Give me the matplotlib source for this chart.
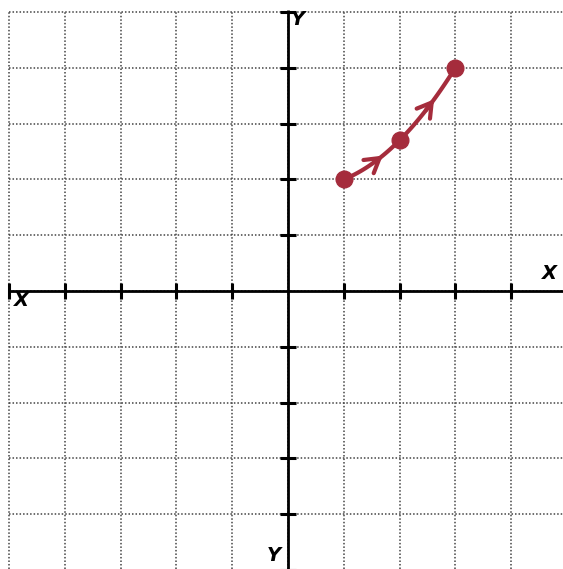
import numpy as np
import matplotlib.pyplot as plt

# path points plotted in the first quadrant
px = [1, 2, 3]
py = [2, 2.7, 4]
# x positions of the direction chevrons along the path
arrow_x = [1.7, 2.62]
grid_ticks = list(range(-5, 6))

red = '#a52c3c'

fig = plt.figure(figsize=(5.63, 5.69), dpi=100)
ax = fig.add_axes([0, 0, 1, 1])
x_lo, x_hi = -5.16, 4.93
y_lo, y_hi = -4.98, 5.215
ax.set_xlim(x_lo, x_hi)
ax.set_ylim(y_lo, y_hi)

# dotted square grid, starting at the outermost top/left lines
dots = dict(color='#444444', lw=1.1, ls=(0, (1, 1.3)), zorder=1)
ax.vlines(grid_ticks, y_lo, 5, **dots)
ax.hlines(grid_ticks, -5, x_hi, **dots)

# axes through the origin
ax.hlines(0, -5, x_hi, color='black', lw=2.0, zorder=2)
ax.vlines(0, y_lo, 5.04, color='black', lw=2.0, zorder=2)
tick_x = [t for t in grid_ticks if t != 0]
ax.plot(tick_x, [0] * len(tick_x), ls='none', marker='|', ms=12, mew=2.2, color='black', zorder=3)
ax.plot([0] * len(tick_x), tick_x, ls='none', marker='_', ms=12, mew=2.2, color='black', zorder=3)

for s in ax.spines.values():
    s.set_visible(False)
ax.set_xticks([])
ax.set_yticks([])

lbl = dict(fontsize=14, fontweight='bold', fontstyle='italic', ha='center', va='center', zorder=4)
ax.text(0.17, 4.86, 'Y', **lbl)
ax.text(4.68, 0.32, 'X', **lbl)
ax.text(-4.77, -0.17, 'X', **lbl)
ax.text(-0.25, -4.73, 'Y', **lbl)

# smooth curve through the three points
coef = np.polyfit(px, py, 2)
xs = np.linspace(px[0], px[-1], 100)
ax.plot(xs, np.polyval(coef, xs), color=red, lw=3.0, solid_capstyle='round', zorder=5)
ax.plot(px, py, 'o', color=red, ms=12, zorder=6)

for ax_ in arrow_x:
    x0 = ax_ - 0.15
    ax.annotate('', xy=(ax_, np.polyval(coef, ax_)), xytext=(x0, np.polyval(coef, x0)),
                arrowprops=dict(arrowstyle='->,head_length=1.0,head_width=0.6', color=red, lw=3.0,
                                shrinkA=0, shrinkB=0),
                zorder=6)

fig.savefig('out.png', dpi=100)
